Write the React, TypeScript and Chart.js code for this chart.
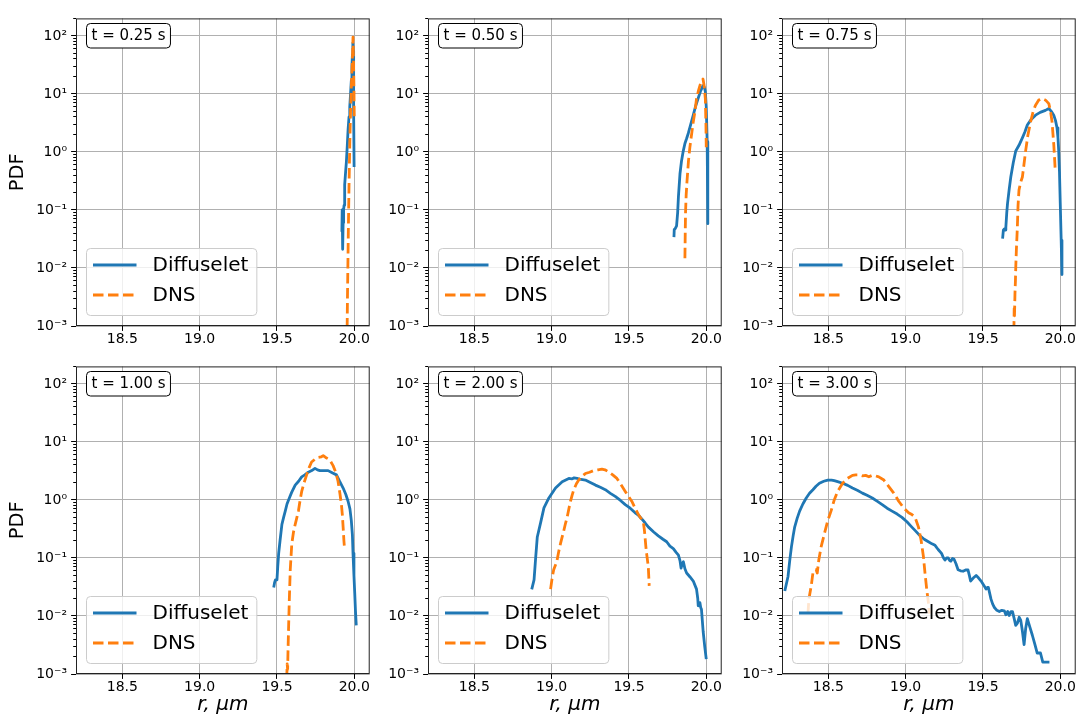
import React, { useEffect, useRef } from 'react';
import { Chart, registerables } from 'chart.js';

Chart.register(...registerables);

const FONT = "'DejaVu Sans', 'Liberation Sans', sans-serif";

// ---------------- data ----------------
const TIME_LABELS = ['t = 0.25 s', 't = 0.50 s', 't = 0.75 s', 't = 1.00 s', 't = 2.00 s', 't = 3.00 s'];
const SERIES_NAMES = ['Diffuselet', 'DNS'];
const X_TICKS = [18.5, 19.0, 19.5, 20.0];
const Y_EXPONENTS = [-3, -2, -1, 0, 1, 2];
const X_TITLE = 'r, μm';
const Y_TITLE = 'PDF';

// t = 0.25 s
const DIF_025_R = [19.920, 19.922, 19.925, 19.928, 19.931, 19.934, 19.938, 19.944, 19.949, 19.955, 19.960, 19.966, 19.971, 19.976, 19.981, 19.985, 19.988, 19.991, 19.993, 19.995, 19.997, 19.999];
const DIF_025_P = [0.042, 0.10, 0.021, 0.06, 0.10, 0.12, 0.27, 0.45, 0.67, 1.3, 2.4, 4.0, 6.0, 10, 17, 30, 47, 75, 55, 25, 5, 0.55];
const DNS_025_R = [19.953, 19.956, 19.959, 19.962, 19.966, 19.969, 19.972, 19.976, 19.981, 19.985, 19.989, 19.992, 19.995, 19.998, 20.000];
const DNS_025_P = [0.0005, 0.003, 0.012, 0.05, 0.25, 0.7, 1.9, 5, 13, 25, 50, 95, 40, 12, 4];

// t = 0.50 s
const DIF_050_R = [19.791, 19.793, 19.800, 19.808, 19.815, 19.820, 19.830, 19.840, 19.850, 19.862, 19.873, 19.884, 19.900, 19.916, 19.930, 19.947, 19.962, 19.979, 19.988, 19.994, 20.000, 20.006, 20.009, 20.011];
const DIF_050_P = [0.034, 0.046, 0.048, 0.053, 0.09, 0.17, 0.42, 0.7, 1.0, 1.4, 1.7, 2.1, 3.0, 4.3, 6.0, 8.3, 11.0, 13.9, 13.0, 11.0, 6.0, 1.5, 0.3, 0.058];
const DNS_050_R = [19.862, 19.864, 19.866, 19.870, 19.875, 19.879, 19.885, 19.894, 19.905, 19.916, 19.927, 19.937, 19.950, 19.965, 19.972, 19.979, 19.986, 19.994, 19.998, 20.000];
const DNS_050_P = [0.0147, 0.04, 0.09, 0.18, 0.3, 0.42, 0.7, 1.2, 2.0, 3.3, 5.0, 8.3, 11.5, 15.7, 17, 18, 14, 8.3, 3.0, 1.2];

// t = 0.75 s
const DIF_075_R = [19.627, 19.632, 19.638, 19.643, 19.648, 19.654, 19.659, 19.670, 19.680, 19.696, 19.712, 19.733, 19.755, 19.771, 19.787, 19.810, 19.840, 19.870, 19.904, 19.926, 19.942, 19.958, 19.969, 19.979, 19.985, 19.990, 19.995, 20.000, 20.006, 20.011];
const DIF_075_P = [0.032, 0.045, 0.047, 0.045, 0.05, 0.09, 0.13, 0.23, 0.37, 0.65, 1.04, 1.3, 1.75, 2.2, 2.9, 3.6, 4.3, 4.8, 5.2, 5.6, 5.0, 4.3, 3.5, 2.6, 1.8, 1.04, 0.45, 0.13, 0.03, 0.0077];
const DNS_075_R = [19.700, 19.702, 19.704, 19.707, 19.710, 19.712, 19.716, 19.722, 19.727, 19.733, 19.744, 19.755, 19.765, 19.776, 19.790, 19.808, 19.825, 19.840, 19.860, 19.883, 19.905, 19.926, 19.937, 19.947, 19.953, 19.958, 19.963, 19.968];
const DNS_075_P = [0.0008, 0.002, 0.0015, 0.0036, 0.006, 0.01, 0.02, 0.047, 0.12, 0.22, 0.3, 0.37, 0.6, 1.04, 1.9, 3.3, 5.0, 6.4, 7.8, 8.3, 7.8, 6.8, 5.0, 3.3, 2.0, 1.35, 0.8, 0.45];

// t = 1.00 s
const DIF_100_R = [19.479, 19.485, 19.490, 19.500, 19.505, 19.511, 19.520, 19.532, 19.543, 19.554, 19.565, 19.575, 19.595, 19.618, 19.640, 19.660, 19.680, 19.703, 19.725, 19.746, 19.762, 19.778, 19.800, 19.831, 19.860, 19.885, 19.905, 19.928, 19.945, 19.960, 19.972, 19.981, 19.988, 19.992, 19.998, 20.003, 20.008, 20.013];
const DIF_100_P = [0.031, 0.038, 0.042, 0.042, 0.07, 0.12, 0.2, 0.38, 0.5, 0.65, 0.85, 1.0, 1.35, 1.8, 2.1, 2.5, 2.7, 3.0, 3.2, 3.5, 3.3, 3.2, 3.2, 3.2, 2.9, 2.7, 2.1, 1.6, 1.25, 0.95, 0.7, 0.44, 0.25, 0.12, 0.05, 0.025, 0.012, 0.0069];
const DNS_100_R = [19.563, 19.566, 19.569, 19.571, 19.575, 19.580, 19.586, 19.596, 19.607, 19.618, 19.629, 19.639, 19.650, 19.660, 19.676, 19.692, 19.708, 19.724, 19.745, 19.767, 19.785, 19.799, 19.815, 19.831, 19.847, 19.863, 19.880, 19.895, 19.907, 19.917, 19.923, 19.928, 19.933, 19.938];
const DNS_100_P = [0.0008, 0.0015, 0.0012, 0.0022, 0.006, 0.0195, 0.0625, 0.176, 0.28, 0.38, 0.5, 0.65, 1.0, 1.4, 2.0, 2.7, 3.6, 4.5, 5.0, 5.4, 5.5, 5.8, 5.4, 5.1, 4.6, 3.9, 3.0, 2.1, 1.3, 0.83, 0.55, 0.34, 0.2, 0.136];

// t = 2.00 s
const DIF_200_R = [18.871, 18.886, 18.897, 18.907, 18.929, 18.950, 18.982, 19.025, 19.068, 19.111, 19.130, 19.145, 19.164, 19.190, 19.218, 19.250, 19.283, 19.315, 19.347, 19.380, 19.411, 19.445, 19.476, 19.508, 19.540, 19.560, 19.583, 19.605, 19.626, 19.660, 19.690, 19.720, 19.744, 19.765, 19.787, 19.805, 19.820, 19.830, 19.837, 19.845, 19.852, 19.862, 19.873, 19.895, 19.916, 19.937, 19.945, 19.948, 19.955, 19.959, 19.964, 19.969, 19.980, 19.990, 20.000];
const DIF_200_P = [0.0288, 0.042, 0.105, 0.23, 0.41, 0.73, 1.08, 1.6, 2.05, 2.35, 2.3, 2.4, 2.35, 2.25, 2.2, 2.0, 1.8, 1.65, 1.5, 1.3, 1.15, 0.98, 0.83, 0.72, 0.6, 0.55, 0.47, 0.40, 0.34, 0.28, 0.24, 0.21, 0.19, 0.16, 0.145, 0.125, 0.112, 0.09, 0.067, 0.08, 0.086, 0.065, 0.055, 0.047, 0.04, 0.029, 0.02, 0.015, 0.016, 0.017, 0.014, 0.013, 0.0054, 0.003, 0.0018];
const DNS_200_R = [18.993, 19.003, 19.013, 19.024, 19.035, 19.046, 19.057, 19.068, 19.079, 19.090, 19.100, 19.111, 19.122, 19.132, 19.143, 19.160, 19.175, 19.195, 19.218, 19.245, 19.272, 19.300, 19.325, 19.345, 19.368, 19.395, 19.422, 19.450, 19.476, 19.497, 19.518, 19.540, 19.561, 19.580, 19.593, 19.600, 19.604, 19.609, 19.614, 19.620, 19.625, 19.631];
const DNS_200_P = [0.029, 0.045, 0.0625, 0.075, 0.092, 0.13, 0.176, 0.23, 0.3, 0.4, 0.5, 0.7, 0.95, 1.2, 1.5, 1.9, 2.2, 2.55, 2.85, 3.0, 3.2, 3.3, 3.4, 3.3, 3.05, 2.7, 2.35, 1.8, 1.4, 1.15, 0.95, 0.72, 0.56, 0.47, 0.41, 0.3, 0.23, 0.16, 0.12, 0.09, 0.071, 0.033];

// t = 3.00 s
const DIF_300_R = [18.218, 18.239, 18.250, 18.261, 18.272, 18.282, 18.298, 18.314, 18.335, 18.357, 18.378, 18.400, 18.420, 18.442, 18.470, 18.496, 18.520, 18.538, 18.565, 18.592, 18.625, 18.656, 18.690, 18.720, 18.750, 18.784, 18.815, 18.848, 18.880, 18.912, 18.945, 18.976, 19.008, 19.040, 19.065, 19.093, 19.120, 19.147, 19.170, 19.190, 19.210, 19.232, 19.245, 19.254, 19.265, 19.275, 19.285, 19.292, 19.303, 19.313, 19.325, 19.339, 19.355, 19.371, 19.388, 19.403, 19.412, 19.420, 19.437, 19.456, 19.472, 19.488, 19.505, 19.520, 19.528, 19.535, 19.552, 19.563, 19.574, 19.590, 19.606, 19.622, 19.638, 19.648, 19.660, 19.670, 19.681, 19.691, 19.702, 19.712, 19.723, 19.734, 19.744, 19.755, 19.766, 19.776, 19.787, 19.803, 19.819, 19.835, 19.851, 19.872, 19.887, 19.930];
const DIF_300_P = [0.027, 0.048, 0.09, 0.155, 0.24, 0.34, 0.48, 0.64, 0.85, 1.08, 1.3, 1.5, 1.72, 1.94, 2.1, 2.2, 2.2, 2.15, 2.05, 1.94, 1.78, 1.6, 1.45, 1.31, 1.2, 1.08, 0.95, 0.83, 0.72, 0.64, 0.57, 0.5, 0.42, 0.34, 0.29, 0.24, 0.21, 0.19, 0.175, 0.165, 0.14, 0.12, 0.1, 0.092, 0.1, 0.1, 0.09, 0.088, 0.098, 0.095, 0.08, 0.0625, 0.06, 0.059, 0.062, 0.0625, 0.05, 0.04, 0.045, 0.05, 0.045, 0.04, 0.034, 0.029, 0.031, 0.031, 0.0195, 0.016, 0.014, 0.0125, 0.0119, 0.0125, 0.0123, 0.0105, 0.012, 0.0102, 0.0119, 0.0119, 0.009, 0.0069, 0.0075, 0.0095, 0.0085, 0.0055, 0.0032, 0.006, 0.009, 0.0065, 0.0047, 0.0033, 0.0023, 0.0023, 0.0016, 0.0016];
const DNS_300_R = [18.368, 18.374, 18.389, 18.400, 18.410, 18.421, 18.428, 18.438, 18.453, 18.474, 18.496, 18.517, 18.538, 18.560, 18.592, 18.624, 18.656, 18.677, 18.698, 18.720, 18.741, 18.762, 18.784, 18.805, 18.826, 18.859, 18.891, 18.923, 18.955, 18.987, 19.019, 19.040, 19.061, 19.083, 19.100, 19.115, 19.125, 19.136, 19.147, 19.153];
const DNS_300_P = [0.011, 0.0195, 0.033, 0.055, 0.06, 0.0625, 0.055, 0.092, 0.155, 0.26, 0.44, 0.64, 1.0, 1.4, 1.94, 2.35, 2.65, 2.7, 2.7, 2.6, 2.65, 2.5, 2.65, 2.6, 2.5, 2.2, 1.7, 1.31, 0.95, 0.73, 0.6, 0.56, 0.5, 0.34, 0.2, 0.105, 0.055, 0.029, 0.017, 0.011];

const DIF_R = [DIF_025_R, DIF_050_R, DIF_075_R, DIF_100_R, DIF_200_R, DIF_300_R];
const DIF_P = [DIF_025_P, DIF_050_P, DIF_075_P, DIF_100_P, DIF_200_P, DIF_300_P];
const DNS_R = [DNS_025_R, DNS_050_R, DNS_075_R, DNS_100_R, DNS_200_R, DNS_300_R];
const DNS_P = [DNS_025_P, DNS_050_P, DNS_075_P, DNS_100_P, DNS_200_P, DNS_300_P];

// ---------------- layout / style ----------------
const X_MIN = 18.2;
const X_MAX = 20.1;
const Y_MIN = 0.001;
const Y_MAX = 200;
const BLUE = '#1f77b4';
const ORANGE = '#ff7f0e';
const GRID = '#b0b0b0';
const LINE_W = 2.8;
const DASH = [10.5, 4.5];

const PLOT_LEFT = [76, 428, 782];
const PLOT_TOP = [11, 359];
const PLOT_W = 296;
const PLOT_H = 315;
const Y_AXIS_W = [76, 60, 60];
const X_AXIS_H = [30, 43];
const PAD_TOP = 10;
const PAD_RIGHT = 3;

const SUP: Record<string, string> = { '-': '⁻', '0': '⁰', '1': '¹', '2': '²', '3': '³', '4': '⁴', '5': '⁵', '6': '⁶', '7': '⁷', '8': '⁸', '9': '⁹' };
const supText = (n: number) => String(n).split('').map((c) => SUP[c] || c).join('');

const Y_TICK_VALUES: number[] = [];
Y_EXPONENTS.forEach((e) => {
  for (let m = 1; m <= 9; m++) {
    const v = parseFloat((m * Math.pow(10, e)).toPrecision(6));
    if (v >= Y_MIN && v <= Y_MAX) Y_TICK_VALUES.push(v);
  }
});

const isMajor = (v: number) => {
  const l = Math.log10(v);
  return Math.abs(l - Math.round(l)) < 1e-6;
};

const alignPx = (p: number) => Math.round(p - 0.5) + 0.5;

function rrect(ctx: CanvasRenderingContext2D, x: number, y: number, w: number, h: number, r: number) {
  ctx.beginPath();
  ctx.moveTo(x + r, y);
  ctx.lineTo(x + w - r, y);
  ctx.arcTo(x + w, y, x + w, y + r, r);
  ctx.lineTo(x + w, y + h - r);
  ctx.arcTo(x + w, y + h, x + w - r, y + h, r);
  ctx.lineTo(x + r, y + h);
  ctx.arcTo(x, y + h, x, y + h - r, r);
  ctx.lineTo(x, y + r);
  ctx.arcTo(x, y, x + r, y, r);
  ctx.closePath();
}

function makeDeco(label: string) {
  return {
    id: 'deco',
    afterDraw(chart: any) {
      const { ctx, chartArea: ca, scales } = chart;
      ctx.save();
      ctx.setLineDash([]);
      // tick marks
      ctx.strokeStyle = '#000';
      ctx.lineWidth = 1;
      scales.y.ticks.forEach((t: any) => {
        const p = scales.y.getPixelForValue(t.value);
        if (p < ca.top - 1 || p > ca.bottom + 1) return;
        const len = isMajor(t.value) ? 4.9 : 2.8;
        const yy = alignPx(p);
        ctx.beginPath();
        ctx.moveTo(ca.left - len, yy);
        ctx.lineTo(ca.left, yy);
        ctx.stroke();
      });
      scales.x.ticks.forEach((t: any) => {
        const p = scales.x.getPixelForValue(t.value);
        const xx = alignPx(p);
        ctx.beginPath();
        ctx.moveTo(xx, ca.bottom);
        ctx.lineTo(xx, ca.bottom + 4.9);
        ctx.stroke();
      });
      // spines
      ctx.strokeStyle = '#222';
      ctx.lineWidth = 1;
      ctx.strokeRect(ca.left + 0.5, ca.top + 0.5, ca.right - ca.left - 1, ca.bottom - ca.top - 1);

      // time annotation
      ctx.font = `15px ${FONT}`;
      const tw = ctx.measureText(label).width;
      const bx = Math.round(ca.left + 10) + 0.5;
      const by = Math.round(ca.top + 5) + 0.5;
      const bw = tw + 10;
      const bh = 24.5;
      rrect(ctx, bx, by, bw, bh, 4);
      ctx.fillStyle = '#fff';
      ctx.fill();
      ctx.strokeStyle = '#000';
      ctx.stroke();
      ctx.fillStyle = '#000';
      ctx.textAlign = 'left';
      ctx.textBaseline = 'middle';
      ctx.fillText(label, bx + 5, by + bh / 2 + 0.5);

      // legend
      ctx.font = `20px ${FONT}`;
      const lw = Math.max(...SERIES_NAMES.map((n) => ctx.measureText(n).width));
      const boxW = 66 + lw + 8.5;
      const boxH = 67;
      const lx = Math.round(ca.left + 10) + 0.5;
      const ly = Math.round(ca.bottom - 11 - boxH) + 0.5;
      rrect(ctx, lx, ly, boxW, boxH, 4);
      ctx.fillStyle = 'rgba(255,255,255,0.8)';
      ctx.fill();
      ctx.strokeStyle = '#cccccc';
      ctx.lineWidth = 1;
      ctx.stroke();
      const colors = [BLUE, ORANGE];
      SERIES_NAMES.forEach((name, i) => {
        const yy = ly + 16.5 + i * 30;
        ctx.strokeStyle = colors[i];
        ctx.lineWidth = LINE_W;
        ctx.setLineDash(i === 1 ? DASH : []);
        ctx.beginPath();
        ctx.moveTo(lx + 6.5, yy);
        ctx.lineTo(lx + 50, yy);
        ctx.stroke();
        ctx.setLineDash([]);
        ctx.fillStyle = '#000';
        ctx.fillText(name, lx + 66, yy + 1);
      });
      ctx.restore();
    },
  };
}

function Panel({ idx }: { idx: number }) {
  const ref = useRef<HTMLCanvasElement>(null);
  const col = idx % 3;
  const row = Math.floor(idx / 3);
  const yW = Y_AXIS_W[col];
  const xH = X_AXIS_H[row];
  const width = yW + PLOT_W + PAD_RIGHT;
  const height = PAD_TOP + PLOT_H + xH;
  const left = PLOT_LEFT[col] - yW;
  const top = PLOT_TOP[row] - PAD_TOP;

  useEffect(() => {
    const canvas = ref.current;
    if (!canvas) return;
    const dif = DIF_R[idx].map((x, i) => ({ x, y: DIF_P[idx][i] }));
    const dns = DNS_R[idx].map((x, i) => ({ x, y: DNS_P[idx][i] }));
    const chart = new Chart(canvas, {
      type: 'line',
      data: {
        datasets: [
          {
            label: SERIES_NAMES[0],
            data: dif,
            borderColor: BLUE,
            backgroundColor: BLUE,
            borderWidth: LINE_W,
            pointRadius: 0,
            tension: 0,
            fill: false,
            borderJoinStyle: 'round',
            order: 1,
          },
          {
            label: SERIES_NAMES[1],
            data: dns,
            borderColor: ORANGE,
            backgroundColor: ORANGE,
            borderWidth: LINE_W,
            borderDash: DASH,
            pointRadius: 0,
            tension: 0,
            fill: false,
            borderJoinStyle: 'round',
            order: 0,
          },
        ],
      },
      options: {
        animation: false,
        responsive: false,
        maintainAspectRatio: false,
        devicePixelRatio: 1,
        layout: { padding: { top: PAD_TOP, right: PAD_RIGHT, left: 0, bottom: 0 } },
        plugins: { legend: { display: false }, tooltip: { enabled: false } },
        events: [],
        scales: {
          x: {
            type: 'linear',
            min: X_MIN,
            max: X_MAX,
            afterBuildTicks: (s: any) => {
              s.ticks = X_TICKS.map((v) => ({ value: v }));
            },
            afterFit: (s: any) => {
              s.height = xH;
            },
            grid: { color: GRID, lineWidth: 1, drawTicks: false },
            border: { display: false },
            ticks: {
              autoSkip: false,
              maxRotation: 0,
              minRotation: 0,
              padding: 5,
              color: '#000',
              font: { family: FONT, size: 14 },
              callback: (v: any) => Number(v).toFixed(1),
            },
            title: {
              display: row === 1,
              text: X_TITLE,
              color: '#000',
              font: { family: FONT, size: 20, style: 'italic' },
              padding: { top: 0, bottom: 0 },
            },
          },
          y: {
            type: 'logarithmic',
            min: Y_MIN,
            max: Y_MAX,
            afterBuildTicks: (s: any) => {
              s.ticks = Y_TICK_VALUES.map((v) => ({ value: v, major: isMajor(v) }));
            },
            afterFit: (s: any) => {
              s.width = yW;
            },
            grid: {
              color: (c: any) => (c.tick && isMajor(c.tick.value) ? GRID : 'rgba(0,0,0,0)'),
              lineWidth: 1,
              drawTicks: false,
            },
            border: { display: false },
            ticks: {
              autoSkip: false,
              padding: 9,
              color: '#000',
              font: { family: FONT, size: 14 },
              callback: (v: any) => {
                const n = Number(v);
                return isMajor(n) ? '10' + supText(Math.round(Math.log10(n))) : '';
              },
            },
            title: {
              display: col === 0,
              text: Y_TITLE,
              color: '#000',
              font: { family: FONT, size: 19.5 },
              padding: { top: 6.5, bottom: 0 },
            },
          },
        },
      },
      plugins: [makeDeco(TIME_LABELS[idx])],
    } as any);
    return () => chart.destroy();
  }, []);

  return (
    <canvas
      ref={ref}
      width={width}
      height={height}
      style={{ position: 'absolute', left, top, width, height }}
    />
  );
}

export default function App() {
  return (
    <div
      style={{
        position: 'absolute',
        left: 0,
        top: 0,
        width: 1081,
        height: 717,
        background: '#fff',
        overflow: 'hidden',
      }}
    >
      {[0, 1, 2, 3, 4, 5].map((i) => (
        <Panel key={i} idx={i} />
      ))}
    </div>
  );
}
